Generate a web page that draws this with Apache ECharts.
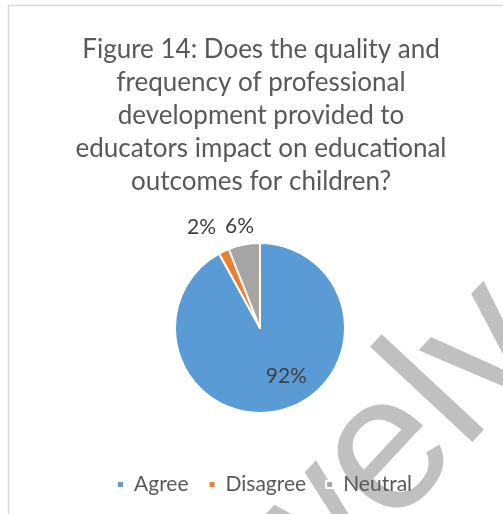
<!DOCTYPE html>
<html>
<head>
<meta charset="utf-8">
<script src="https://cdn.jsdelivr.net/npm/echarts@6/dist/echarts.min.js"></script>
<style>
  html, body { margin: 0; padding: 0; background: #ffffff; }
  #chart { width: 503px; height: 514px; }
</style>
</head>
<body>
<div id="chart"></div>
<script>
// Survey answers, in percent
const categories = ['Agree', 'Disagree', 'Neutral'];
const values = [92, 2, 6];
const colors = ['#5B9BD5', '#ED7D31', '#A5A5A5'];
const titleLines = [
  'Figure 14: Does the quality and',
  'frequency of professional',
  'development provided to',
  'educators impact on educational',
  'outcomes for children?'
];
const watermarkText = 'Twelve';

const FONT = 'Lato, "Noto Sans", sans-serif';

// label placement tweaks per slice (pixel nudges from the slice's inner anchor)
const labelOffsets = [[15, 4], [-39, -60], [-12, -57]];

const pieData = categories.map((name, i) => ({
  name,
  value: values[i],
  itemStyle: { color: colors[i] },
  label: { position: 'inside', offset: labelOffsets[i] }
}));

const chart = echarts.init(document.getElementById('chart'), null, { renderer: 'canvas' });

const wmAngle = 47 * Math.PI / 180;
const wmSize = 193;

chart.setOption({
  animation: false,
  backgroundColor: '#ffffff',
  title: {
    text: titleLines.join('\n'),
    left: 256,
    top: 28,
    textAlign: 'center',
    textStyle: {
      fontFamily: FONT,
      fontSize: 26,
      fontWeight: 'normal',
      color: '#595959',
      lineHeight: 33
    }
  },
  legend: {
    data: categories,
    left: 111,
    top: 469,
    icon: 'rect',
    itemWidth: 7,
    itemHeight: 7,
    itemGap: 19,
    textStyle: {
      fontFamily: FONT,
      fontSize: 21,
      color: '#595959',
      padding: [0, 0, 0, 5]
    }
  },
  graphic: [
    {
      type: 'rect',
      z: 0,
      silent: true,
      shape: { x: 8.5, y: 5.5, width: 620, height: 620 },
      style: { fill: 'none', stroke: '#d9d9d9', lineWidth: 1.5 }
    },
    {
      type: 'text',
      z: 1,
      silent: true,
      x: 227,
      y: 715,
      rotation: wmAngle,
      style: {
        text: watermarkText,
        x: 0,
        y: -0.31 * wmSize,
        font: wmSize + 'px "Liberation Sans", Arial, sans-serif',
        fill: '#c0c0c0',
        align: 'left',
        verticalAlign: 'middle'
      }
    }
  ],
  series: [
    {
      type: 'pie',
      center: [260, 328],
      radius: [0, 85],
      startAngle: 90,
      clockwise: true,
      avoidLabelOverlap: false,
      z: 3,
      itemStyle: { borderColor: '#ffffff', borderWidth: 2 },
      label: {
        show: true,
        formatter: '{c}%',
        fontFamily: FONT,
        fontSize: 21,
        color: '#404040'
      },
      labelLine: { show: false },
      emphasis: { disabled: true },
      data: pieData
    }
  ]
});
</script>
</body>
</html>
